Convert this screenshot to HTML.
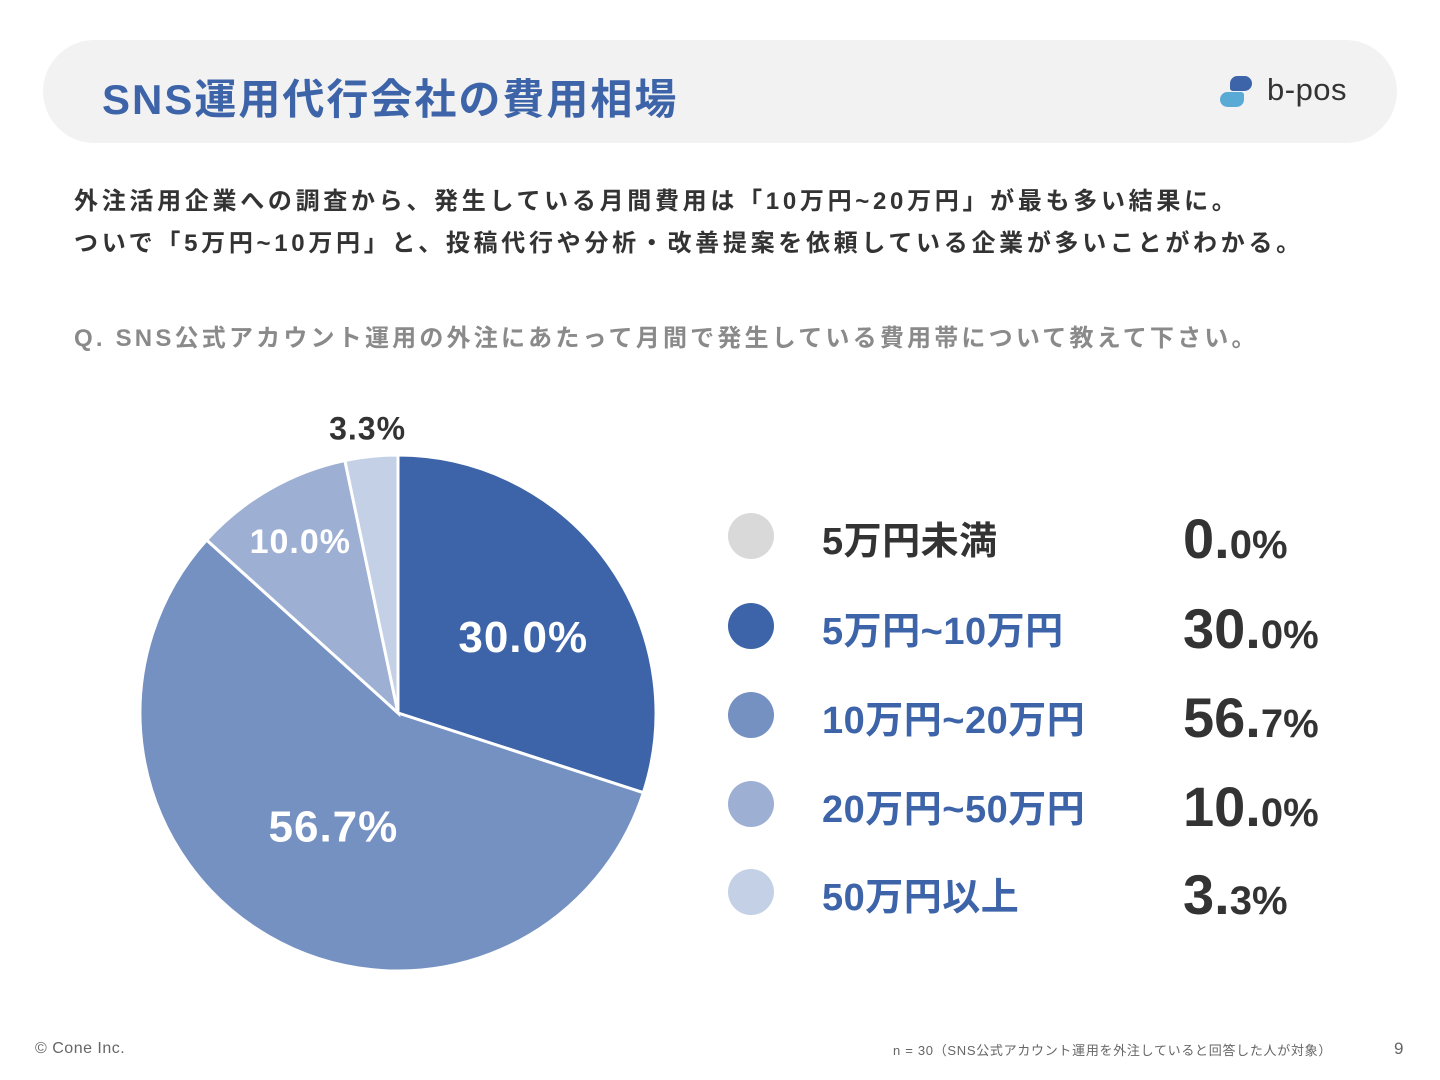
<!DOCTYPE html>
<html><head><meta charset="utf-8">
<style>
body{margin:0;width:1440px;height:1080px;background:#fff;position:relative;overflow:hidden;font-family:"Liberation Sans","Noto Sans CJK JP",sans-serif;}
.abs{position:absolute;white-space:nowrap;}
#header{position:absolute;left:43px;top:40px;width:1354px;height:103px;background:#f2f2f2;border-radius:52px;}
#title{left:102px;top:66px;font-size:42px;font-weight:bold;color:#3d64a8;letter-spacing:2px;}
.lead{left:74px;font-size:24px;font-weight:bold;color:#333;letter-spacing:3.7px;}
#question{left:74px;top:318px;font-size:24px;font-weight:bold;color:#8a8a8a;letter-spacing:3.2px;}
.leg-dot{position:absolute;width:46px;height:46px;border-radius:50%;}
.leg-label{position:absolute;left:822px;font-size:38px;font-weight:bold;color:#3d64a8;white-space:nowrap;letter-spacing:0.5px;}
.leg-val{position:absolute;left:1183px;font-size:56px;font-weight:bold;color:#333;white-space:nowrap;}
.leg-val small{font-size:40px;}
</style></head><body>
<div id="header"></div>
<div class="abs" id="title">SNS運用代行会社の費用相場</div>
<div class="abs" style="left:1220px;top:74px;width:140px;height:40px;">
 <div style="position:absolute;left:10px;top:2px;width:22px;height:15px;background:#3d64a8;border-radius:8px 8px 8px 3px;"></div>
 <div style="position:absolute;left:0;top:18px;width:24px;height:15px;background:#5aaad6;border-radius:8px 3px 8px 8px;"></div>
 <div style="position:absolute;left:47px;top:-2px;font-size:31px;color:#333;letter-spacing:0.5px;">b-pos</div>
</div>
<div class="abs lead" style="top:181px;">外注活用企業への調査から、発生している月間費用は「10万円~20万円」が最も多い結果に。</div>
<div class="abs lead" style="top:223px;">ついで「5万円~10万円」と、投稿代行や分析・改善提案を依頼している企業が多いことがわかる。</div>
<div class="abs" id="question">Q. SNS公式アカウント運用の外注にあたって月間で発生している費用帯について教えて下さい。</div>
<svg id="pie" width="1440" height="1080" style="position:absolute;left:0;top:0;"></svg>
<div id="legend"></div>
<div class="abs" style="left:35px;top:1040px;font-size:16px;color:#666;letter-spacing:0.5px;">© Cone Inc.</div>
<div class="abs" style="left:893px;top:1040px;font-size:13px;color:#666;letter-spacing:0.7px;">n = 30（SNS公式アカウント運用を外注していると回答した人が対象）</div>
<div class="abs" style="left:1394px;top:1039px;font-size:17px;color:#666;">9</div>
<script>
const categories=["5万円未満","5万円~10万円","10万円~20万円","20万円~50万円","50万円以上"];
const values=[0.0,30.0,56.7,10.0,3.3];
const colors=["#d9d9d9","#3d64a8","#7591c2","#9db0d4","#c4d0e6"];
const cx=398,cy=713,R=258;
const svg=document.getElementById('pie');
const NS='http://www.w3.org/2000/svg';
const total=values.reduce((a,b)=>a+b,0);
function pt(a,r){return [cx+r*Math.sin(a),cy-r*Math.cos(a)];}
let start=0;
values.forEach((v,i)=>{
  if(v<=0)return;
  const ang=v/total*2*Math.PI,end=start+ang;
  const p1=pt(start,R),p2=pt(end,R);
  const path=document.createElementNS(NS,'path');
  path.setAttribute('d',`M${cx},${cy}L${p1[0]},${p1[1]}A${R},${R} 0 ${ang>Math.PI?1:0} 1 ${p2[0]},${p2[1]}Z`);
  path.setAttribute('fill',colors[i]);path.setAttribute('stroke','#fff');path.setAttribute('stroke-width','3');
  
  
  svg.appendChild(path);
  const mid=start+ang/2;
  const small=v<5;
  const lr=small?R+36:(v<15?R*0.76:(v<50?R*0.6:R*0.5));
  const dy=small?19:(v<15?10:(v<50?30:17));
  const lp=pt(mid,lr);
  const t=document.createElementNS(NS,'text');
  t.setAttribute('x',lp[0]);t.setAttribute('y',lp[1]+dy);
  t.setAttribute('text-anchor','middle');
  t.setAttribute('font-family','Liberation Sans, sans-serif');t.setAttribute('font-weight','bold');
  t.setAttribute('font-size',small?32:(v<15?34:44));
  t.setAttribute('letter-spacing','1');
  t.setAttribute('fill',small?'#333':'#fff');
  t.textContent=v.toFixed(1)+'%';
  
  
  svg.appendChild(t);
  start=end;
});
const legend=document.getElementById('legend');
const rowY=[536,626,715,804,892];
categories.forEach((c,i)=>{
  const d=document.createElement('div');d.className='leg-dot';
  d.style.left='728px';d.style.top=(rowY[i]-23)+'px';d.style.background=colors[i];
  
  
  legend.appendChild(d);
  const l=document.createElement('div');l.className='leg-label';
  l.style.top=(rowY[i]-26)+'px';l.textContent=c;if(i===0)l.style.color='#333';
  
  
  legend.appendChild(l);
  const s=values[i].toFixed(1).split('.');
  const val=document.createElement('div');val.className='leg-val';
  val.style.top=(rowY[i]-30)+'px';
  val.innerHTML=s[0]+'.<small>'+s[1]+'%</small>';
  
  
  legend.appendChild(val);
});
</script>
</body></html>
